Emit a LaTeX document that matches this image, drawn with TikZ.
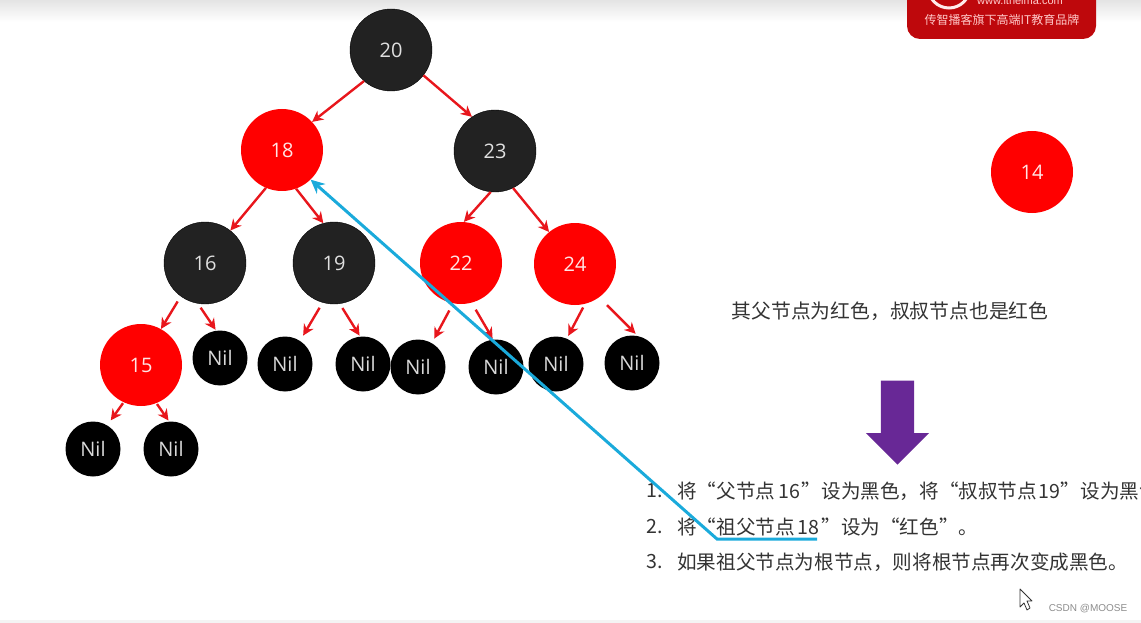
\documentclass[tikz,border=0pt]{standalone}
\usepackage{fontspec}
\setmainfont{Noto Sans CJK SC}
\newfontfamily\labelfont{Open Sans}
\newfontfamily\markfont{Liberation Sans}
\usetikzlibrary{arrows.meta,shapes.arrows}
\definecolor{TreeRed}{RGB}{255,0,0}
\definecolor{LinkRed}{RGB}{232,22,28}
\definecolor{TreeBlack}{RGB}{34,34,34}
\definecolor{LineBlue}{RGB}{26,170,219}
\definecolor{ArrowPurple}{RGB}{104,40,150}
\definecolor{LogoRed}{RGB}{190,8,12}
\definecolor{SoftGray}{RGB}{228,228,228}
\definecolor{TextGray}{RGB}{51,51,51}
\begin{document}
\begin{tikzpicture}[x=1pt,y=-1pt,>=Stealth,
treenode/.style={circle,inner sep=0pt,minimum size=82pt,font=\labelfont\fontsize{20}{24}\selectfont},
blacknode/.style={treenode,fill=TreeBlack,draw=black,text=white!88!black},
rednode/.style={treenode,fill=TreeRed,text=white!90!red},
nilnode/.style={treenode,minimum size=55pt,fill=black,text=white!85!black},
link/.style={->,draw=LinkRed,line width=2.4pt,>={Stealth[length=11pt,width=11pt]}},
listtext/.style={anchor=west,inner sep=0pt,text=TextGray,font=\fontsize{19.6}{23}\selectfont}]
\useasboundingbox (0,0) rectangle (1141,623);
\shade[top color=SoftGray,bottom color=white] (0,0) rectangle (1141,22);
\fill[SoftGray!40] (0,620) rectangle (1141,623);
% logo in the corner, cut by the top edge
\begin{scope}
\clip (0,0) rectangle (1141,623);
\fill[LogoRed,rounded corners=13pt] (907,-30) rectangle (1096,39);
\node[circle,draw=white!92!red,line width=3pt,minimum size=42pt,inner sep=0pt] (ring) at (949,-13) {};
\node[text=white!80!red,inner sep=0pt,font=\markfont\fontsize{11}{13}\selectfont] (web) at (1020,1) {www.itheima.com};
\node[text=white!78!red,inner sep=0pt,font=\fontsize{12}{14}\selectfont] (brand) at (1002,20) {传智播客旗下高端IT教育品牌};
\end{scope}
% tree
\node[blacknode] (n20) at (391,50) {20};
\node[rednode] (n18) at (282,150) {18};
\node[blacknode] (n23) at (495,151) {23};
\node[blacknode] (n16) at (205,263) {16};
\node[blacknode] (n19) at (334,263) {19};
\node[rednode] (n22) at (461,263) {22};
\node[rednode] (n24) at (575,264) {24};
\node[rednode] (n15) at (141,365) {15};
\node[nilnode] (a) at (220,358) {Nil};
\node[nilnode] (b) at (285,364) {Nil};
\node[nilnode] (c) at (363,364) {Nil};
\node[nilnode] (d) at (418,367) {Nil};
\node[nilnode] (e) at (496,367) {Nil};
\node[nilnode] (f) at (556,364) {Nil};
\node[nilnode] (g) at (632,363) {Nil};
\node[nilnode] (h) at (93,449) {Nil};
\node[nilnode] (i) at (171,449) {Nil};
\node[rednode] (n14) at (1032,172) {14};
\draw[link] (n20.229)--(n18.43);\draw[link] (n20.322)--(n23.124);
\draw[link] (n18.247)--(n16.52);\draw[link] (n18.290)--(n19.105);
\draw[link] (n23.264)--(n22.86);\draw[link] (n23.296)--(n24.129);
\draw[link,shorten <=6pt] (n16.234)--(n15.61);\draw[link,shorten <=5pt,shorten >=1pt] (n16.260)--(a.98);
\draw[link,shorten <=6pt,shorten >=6pt] (n19.254)--(b.57);\draw[link,shorten <=5pt,shorten >=1pt] (n19.278)--(c.96);
\draw[link,shorten <=8pt,shorten >=5pt] (n22.259)--(d.60);\draw[link,shorten <=8pt,shorten >=1pt] (n22.285)--(e.96);
\draw[link,shorten <=4pt,shorten >=3pt] (n24.284)--(f.67);\draw[link,shorten <=11pt,shorten >=3pt] (n24.306)--(g.78);
\draw[link,shorten <=1pt,shorten >=6pt] (n15.245)--(h.59);\draw[link,shorten <=1pt,shorten >=1pt] (n15.292)--(i.94);
% text on the right
\node[inner sep=0pt,text=TextGray,font=\fontsize{19.8}{24}\selectfont] (rule) at (890,311) {其父节点为红色，叔叔节点也是红色};
\node[single arrow,shape border rotate=270,fill=ArrowPurple,inner sep=16.5pt,minimum height=84pt,minimum width=63pt,single arrow head extend=15pt,single arrow tip angle=90,single arrow head indent=0pt,anchor=tip] (down) at (897.5,465) {};
\node[listtext] (no1) at (646,491) {1.};
\node[listtext] (no2) at (646,527) {2.};
\node[listtext] (no3) at (646,562) {3.};
\node[listtext] (s1) at (677,491) {将“父节点\kern3pt 16\kern2pt ”设为黑色，将“叔叔节点\kern1pt 19\kern1pt ”设为黑色};
\node[listtext] (s2) at (677,527) {将“祖父节点\kern3pt 18\kern2pt ”设为“红色”。};
\node[listtext] (s3) at (677,562) {如果祖父节点为根节点，则将根节点再次变成黑色。};
% hand drawn pointer
\coordinate (u1) at (817,539);
\coordinate (u2) at (717,539);
\draw[->,draw=LineBlue,line width=3pt,>={Stealth[length=14pt,width=13pt]}] (u1)--(u2)--(n18.314);
% cursor and watermark
\draw[fill=white,draw=TextGray,line width=.8pt,line join=round] (1020,589)--(1032,601)--(1027,601)--(1030,608)--(1027,610)--(1024,603)--(1020,607)--cycle;
\node[inner sep=0pt,text=black!45,font=\markfont\fontsize{10}{12}\selectfont] (csdn) at (1088,609) {CSDN @MOOSE};
\end{tikzpicture}
\end{document}
